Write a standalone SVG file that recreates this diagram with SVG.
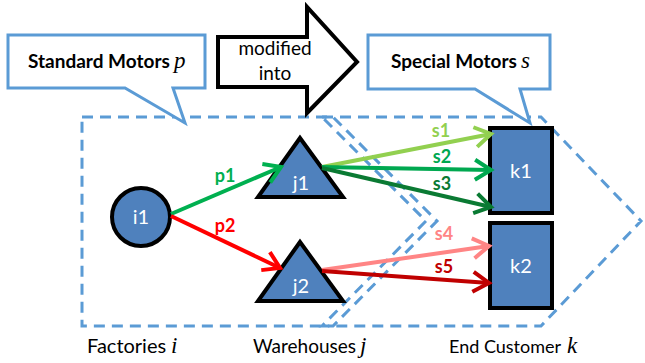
<svg xmlns="http://www.w3.org/2000/svg" width="645" height="363" viewBox="0 0 645 363">
<style>
.dash{fill:none;stroke:#5B9BD5;stroke-width:3;stroke-dasharray:11 7;}
.callout{fill:#fff;stroke:#5B9BD5;stroke-width:3;stroke-linejoin:miter;}
.node{fill:#4F81BD;stroke:#000;stroke-width:4;stroke-linejoin:miter;}
.nt{font-family:Lato,"Open Sans",sans-serif;font-size:20px;fill:#fff;text-anchor:middle;}
.bt{font-family:Lato,"Open Sans",sans-serif;font-size:19px;font-weight:bold;fill:#000;}
.rt{font-family:Lato,"Open Sans",sans-serif;font-size:19px;fill:#000;}
.var{font-family:"Liberation Serif",serif;font-style:italic;font-weight:normal;font-size:23px;}
.lab{font-family:Lato,"Open Sans",sans-serif;font-size:18px;font-weight:bold;text-anchor:middle;}
.ln{fill:none;stroke-width:4;}
</style>
<defs>
<marker id="mp1" markerUnits="userSpaceOnUse" orient="auto" markerWidth="24" markerHeight="24" refX="18" refY="12" viewBox="0 0 24 24"><path d="M2,2 L18,12 L2,22" fill="none" stroke="#00B050" stroke-width="4"/></marker>
<marker id="mp2" markerUnits="userSpaceOnUse" orient="auto" markerWidth="24" markerHeight="24" refX="18" refY="12" viewBox="0 0 24 24"><path d="M2,2 L18,12 L2,22" fill="none" stroke="#FF0000" stroke-width="4"/></marker>
<marker id="ms1" markerUnits="userSpaceOnUse" orient="auto" markerWidth="24" markerHeight="24" refX="18" refY="12" viewBox="0 0 24 24"><path d="M2,2 L18,12 L2,22" fill="none" stroke="#92D050" stroke-width="4"/></marker>
<marker id="ms2" markerUnits="userSpaceOnUse" orient="auto" markerWidth="24" markerHeight="24" refX="18" refY="12" viewBox="0 0 24 24"><path d="M2,2 L18,12 L2,22" fill="none" stroke="#00A850" stroke-width="4"/></marker>
<marker id="ms3" markerUnits="userSpaceOnUse" orient="auto" markerWidth="24" markerHeight="24" refX="18" refY="12" viewBox="0 0 24 24"><path d="M2,2 L18,12 L2,22" fill="none" stroke="#0A7A33" stroke-width="4"/></marker>
<marker id="ms4" markerUnits="userSpaceOnUse" orient="auto" markerWidth="24" markerHeight="24" refX="18" refY="12" viewBox="0 0 24 24"><path d="M2,2 L18,12 L2,22" fill="none" stroke="#FF8585" stroke-width="4"/></marker>
<marker id="ms5" markerUnits="userSpaceOnUse" orient="auto" markerWidth="24" markerHeight="24" refX="18" refY="12" viewBox="0 0 24 24"><path d="M2,2 L18,12 L2,22" fill="none" stroke="#C00000" stroke-width="4"/></marker>
</defs>

<g id="regions">
<path class="dash" d="M82,117 H333 L437,221 L333,326 H82 Z"/>
<path class="dash" d="M322,117 H541 L641,221 L541,326 H322 L426,221 Z"/>
</g>

<g id="callout-standard">
<path class="callout" d="M8,35 H205 V88 H173 L185,123 L125,88 H8 Z"/>
<text class="bt" x="28" y="68">Standard Motors<tspan class="var" x="174">p</tspan></text>
</g>

<g id="callout-special">
<path class="callout" d="M368,35 H550 V89 H520 L530,123 L475,89 H368 Z"/>
<text class="bt" x="391" y="68">Special Motors<tspan class="var" x="521">s</tspan></text>
</g>

<g id="modified-arrow">
<path d="M218,37 H307 V7 L357,62 L307,113 V87 H218 Z" fill="#fff" stroke="#000" stroke-width="4"/>
<text class="rt" x="275" y="55" text-anchor="middle">modified</text>
<text class="rt" x="275" y="80" text-anchor="middle">into</text>
</g>

<g id="i1">
<circle class="node" cx="141" cy="217" r="29"/>
<text class="nt" x="141" y="224">i1</text>
</g>
<g id="j1">
<path class="node" d="M300,138 L343,197 H258 Z"/>
<text class="nt" x="301" y="190">j1</text>
</g>
<g id="j2">
<path class="node" d="M300,242 L343,301 H258 Z"/>
<text class="nt" x="301" y="293">j2</text>
</g>
<g id="k1">
<rect class="node" x="490" y="128" width="62" height="85"/>
<text class="nt" x="521" y="178">k1</text>
</g>
<g id="k2">
<rect class="node" x="490" y="223" width="62" height="85"/>
<text class="nt" x="521" y="273">k2</text>
</g>

<g id="connectors">
<line class="ln" stroke="#00B050" x1="171" y1="214" x2="281" y2="167" marker-end="url(#mp1)"/>
<line class="ln" stroke="#FF0000" x1="171" y1="216" x2="280" y2="268" marker-end="url(#mp2)"/>
<line class="ln" stroke="#92D050" x1="322" y1="167" x2="491" y2="134" marker-end="url(#ms1)"/>
<line class="ln" stroke="#00A850" x1="322" y1="167" x2="491" y2="170" marker-end="url(#ms2)"/>
<line class="ln" stroke="#0A7A33" x1="322" y1="168" x2="491" y2="207" marker-end="url(#ms3)"/>
<line class="ln" stroke="#FF8585" x1="322" y1="270" x2="489" y2="246" marker-end="url(#ms4)"/>
<line class="ln" stroke="#C00000" x1="322" y1="271" x2="489" y2="283" marker-end="url(#ms5)"/>
<text class="lab" fill="#00B050" x="225" y="182">p1</text>
<text class="lab" fill="#FF0000" x="225" y="232">p2</text>
<text class="lab" fill="#92D050" x="441" y="137">s1</text>
<text class="lab" fill="#00A850" x="442" y="163">s2</text>
<text class="lab" fill="#0A7A33" x="442" y="190">s3</text>
<text class="lab" fill="#FF8585" x="444" y="240">s4</text>
<text class="lab" fill="#C00000" x="444" y="273">s5</text>
</g>

<g id="axis-labels">
<text class="rt" x="87" y="353" style="font-size:20px">Factories<tspan class="var" x="171">i</tspan></text>
<text class="rt" x="253" y="353">Warehouses<tspan class="var" x="360">j</tspan></text>
<text class="rt" x="449" y="353" style="font-size:18px">End Customer<tspan class="var" x="567">k</tspan></text>
</g>
</svg>
